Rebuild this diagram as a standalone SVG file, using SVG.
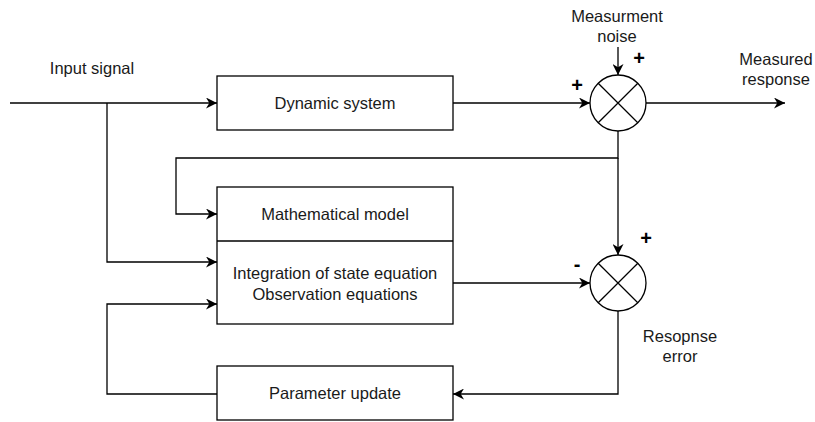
<svg xmlns="http://www.w3.org/2000/svg" width="815" height="422" viewBox="0 0 815 422">
<style>
.box{fill:#fff;stroke:#000;stroke-width:1.3}
.ln{fill:none;stroke:#000;stroke-width:1.3}
.t{font-family:"Liberation Sans",Arial,sans-serif;font-size:16.5px;fill:#1a1a1a;text-anchor:middle}
.s{font-family:"Liberation Sans",Arial,sans-serif;font-size:20px;font-weight:bold;fill:#000;text-anchor:middle}
</style>
<defs>
<marker id="ah" viewBox="0 0 10 10" refX="10" refY="5" markerWidth="11" markerHeight="11" markerUnits="userSpaceOnUse" orient="auto">
<path d="M0,0 L10,5 L0,10 L3,5 Z" fill="#000"/>
</marker>
</defs>
<g id="connectors">
<path class="ln" d="M10,103 H217" marker-end="url(#ah)"/>
<path class="ln" d="M107,103 V262 H217" marker-end="url(#ah)"/>
<path class="ln" d="M453,103 H590" marker-end="url(#ah)"/>
<path class="ln" d="M618,47 V75" marker-end="url(#ah)"/>
<path class="ln" d="M646,103 H785" marker-end="url(#ah)"/>
<path class="ln" d="M618,131 V158 H176 V214 H217" marker-end="url(#ah)"/>
<path class="ln" d="M618,158 V255" marker-end="url(#ah)"/>
<path class="ln" d="M453,283 H590" marker-end="url(#ah)"/>
<path class="ln" d="M618,311 V394 H453" marker-end="url(#ah)"/>
<path class="ln" d="M217,394 H107 V304 H217" marker-end="url(#ah)"/>
</g>
<g id="dynamic-system">
<rect class="box" x="217" y="76" width="236" height="54"/>
<text class="t" x="335" y="109">Dynamic system</text>
</g>
<g id="mathematical-model">
<rect class="box" x="217" y="187" width="236" height="137"/>
<line class="ln" x1="217" y1="241" x2="453" y2="241"/>
<text class="t" x="335" y="220">Mathematical model</text>
<text class="t" x="335" y="279">Integration of state equation</text>
<text class="t" x="335" y="300">Observation equations</text>
</g>
<g id="parameter-update">
<rect class="box" x="217" y="366" width="236" height="54"/>
<text class="t" x="335" y="399">Parameter update</text>
</g>
<g id="sum1">
<circle class="box" cx="618" cy="103" r="28"/>
<path class="ln" d="M598.2,83.2 L637.8,122.8 M637.8,83.2 L598.2,122.8"/>
</g>
<g id="sum2">
<circle class="box" cx="618" cy="283" r="28"/>
<path class="ln" d="M598.2,263.2 L637.8,302.8 M637.8,263.2 L598.2,302.8"/>
</g>
<g id="labels">
<text class="t" x="92" y="74">Input signal</text>
<text class="t" x="617" y="22">Measurment</text>
<text class="t" x="617" y="42">noise</text>
<text class="t" x="776" y="65">Measured</text>
<text class="t" x="776" y="85">response</text>
<text class="t" x="680" y="342">Resopnse</text>
<text class="t" x="680" y="362">error</text>
<text class="s" x="639" y="65">+</text>
<text class="s" x="577" y="92">+</text>
<text class="s" x="646" y="245">+</text>
<text class="s" x="577" y="271">-</text>
</g>
</svg>
